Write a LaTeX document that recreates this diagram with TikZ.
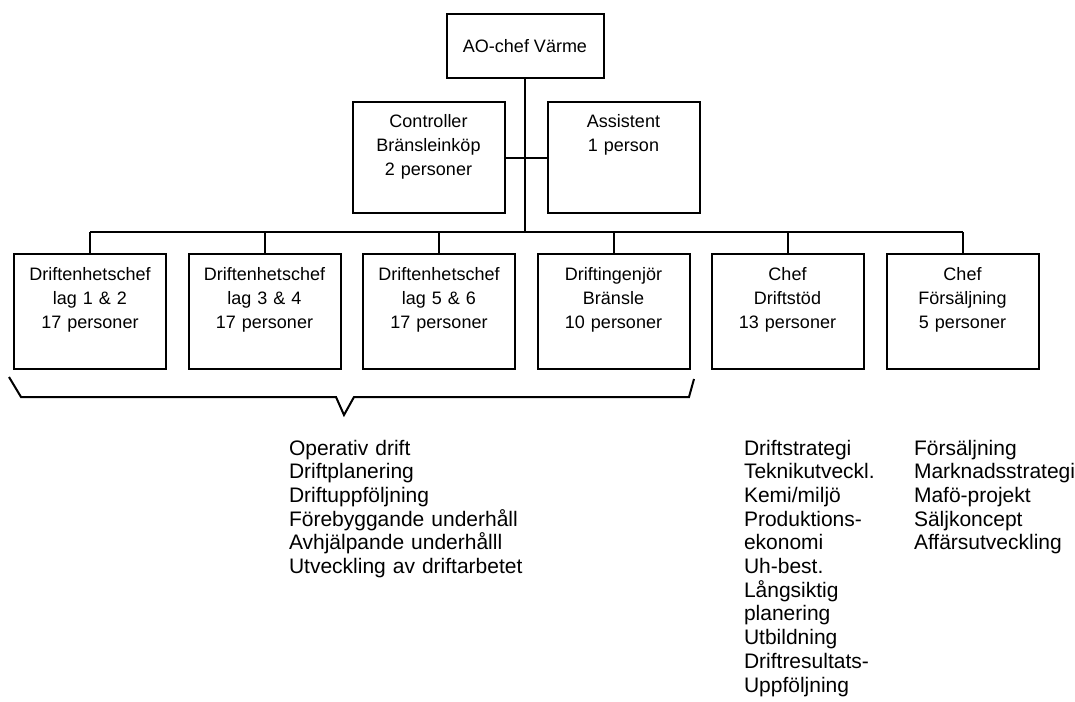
\documentclass[tikz,border=0pt]{standalone}
\usepackage{fontspec}
\setmainfont{Liberation Sans}
\begin{document}
\begin{tikzpicture}[x=1bp,y=-1bp,line width=2bp,
    unit/.style={draw, text width=152bp, align=center, inner sep=0pt,
      text height=26bp, text depth=89bp, anchor=north,
      font=\fontsize{18bp}{24bp}\selectfont},
    tasks/.style={anchor=base west, text width=200bp, align=left, inner sep=0pt,
      font=\fontsize{21bp}{23.7bp}\selectfont}]
  \useasboundingbox (0,0) rectangle (1075,702);
  % top
  \node[draw, minimum width=157bp, minimum height=64bp, inner sep=0pt,
    font=\fontsize{18bp}{24bp}\selectfont] (ao) at (525,46) {AO-chef Värme};
  \node[unit, text depth=85bp] (ctrl) at (428.5,101) {Controller\\Bränsleinköp\\2 personer};
  \node[unit, text depth=85bp] (asst) at (623.5,101) {Assistent\\1 person};
  % units
  \node[unit] (d1) at (90,253) {Driftenhetschef\\lag 1 \& 2\\17 personer};
  \node[unit] (d2) at (264.5,253) {Driftenhetschef\\lag 3 \& 4\\17 personer};
  \node[unit] (d3) at (439,253) {Driftenhetschef\\lag 5 \& 6\\17 personer};
  \node[unit] (d4) at (613.5,253) {Driftingenjör\\Bränsle\\10 personer};
  \node[unit] (d5) at (787.5,253) {Chef\\Driftstöd\\13 personer};
  \node[unit] (d6) at (962.5,253) {Chef\\Försäljning\\5 personer};
  % tasks
  \node[tasks, text width=260bp] (ops) at (288,455) {Operativ drift\\Driftplanering\\Driftuppföljning\\Förebyggande underhåll\\Avhjälpande underhålll\\Utveckling av driftarbetet};
  \node[tasks, text width=160bp] (support) at (743,455) {Driftstrategi\\Teknikutveckl.\\Kemi/miljö\\Produktions-\\ekonomi\\Uh-best.\\Långsiktig\\planering\\Utbildning\\Driftresultats-\\Uppföljning};
  \node[tasks, text width=170bp] (sales) at (913,455) {Försäljning\\Marknadsstrategi\\Mafö-projekt\\Säljkoncept\\Affärsutveckling};
  % lines
  \coordinate (bus) at (0,232);
  \draw (ao) -- (ao |- bus);
  \draw (ctrl) -- (asst);
  \draw (d1.north |- bus) -- (d6.north |- bus);
  \foreach \n in {1,...,6}
    \draw (d\n) -- (d\n.north |- bus);
  % brace
  \draw (9,377) -- (21,397) -- (336,397) -- (344,415) -- (354,397) -- (689,397) -- (694,379);
\end{tikzpicture}
\end{document}
